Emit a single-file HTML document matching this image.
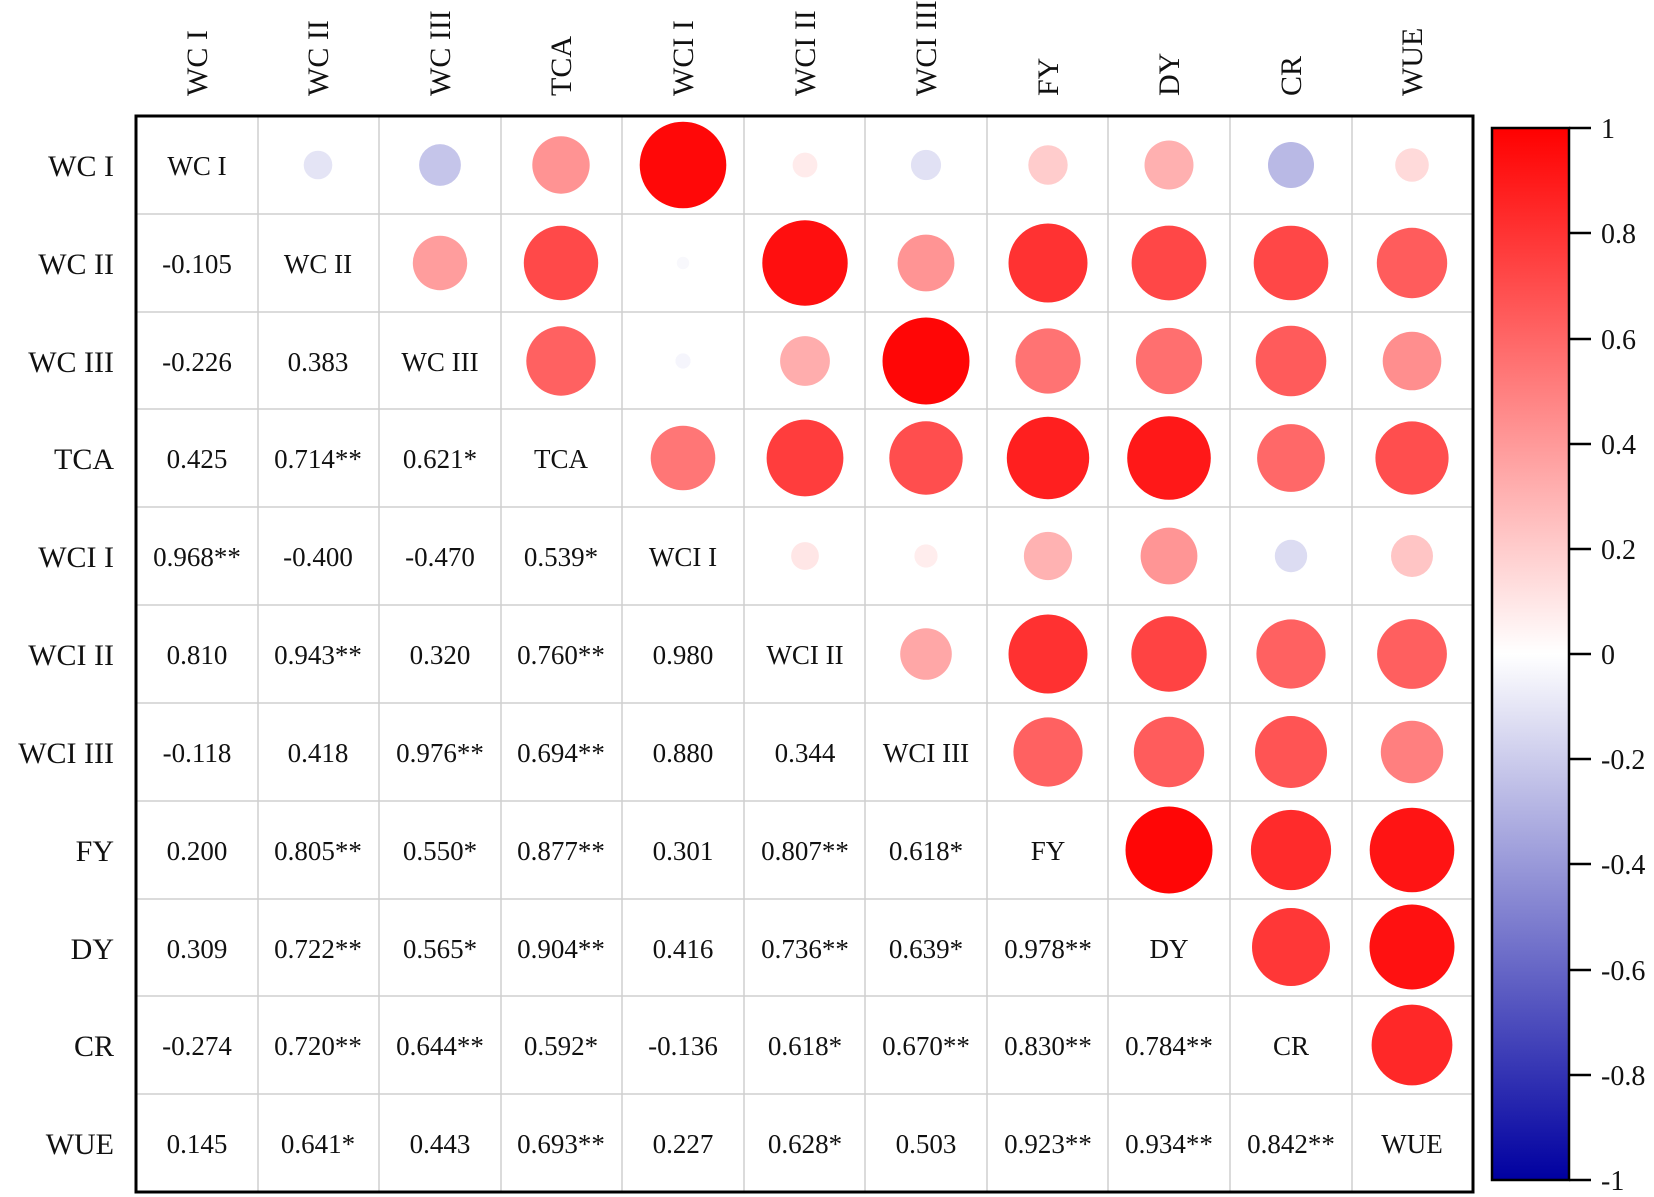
<!DOCTYPE html>
<html><head><meta charset="utf-8"><style>html,body{margin:0;padding:0;background:#fff}svg{display:block}</style></head>
<body>
<svg width="1654" height="1197" xmlns="http://www.w3.org/2000/svg" font-family="Liberation Serif, serif">
<defs><linearGradient id="cb" x1="0" y1="0" x2="0" y2="1">
<stop offset="0" stop-color="#ff0000"/><stop offset="0.5" stop-color="#ffffff"/><stop offset="1" stop-color="#0000a0"/></linearGradient></defs>
<g stroke="#cfcfcf" stroke-width="1.5">
<line x1="258" y1="116" x2="258" y2="1192"/><line x1="379" y1="116" x2="379" y2="1192"/><line x1="501" y1="116" x2="501" y2="1192"/><line x1="622" y1="116" x2="622" y2="1192"/><line x1="744" y1="116" x2="744" y2="1192"/><line x1="865" y1="116" x2="865" y2="1192"/><line x1="987" y1="116" x2="987" y2="1192"/><line x1="1108" y1="116" x2="1108" y2="1192"/><line x1="1230" y1="116" x2="1230" y2="1192"/><line x1="1352" y1="116" x2="1352" y2="1192"/>
<line x1="136" y1="214" x2="1473" y2="214"/><line x1="136" y1="312" x2="1473" y2="312"/><line x1="136" y1="409" x2="1473" y2="409"/><line x1="136" y1="507" x2="1473" y2="507"/><line x1="136" y1="605" x2="1473" y2="605"/><line x1="136" y1="703" x2="1473" y2="703"/><line x1="136" y1="801" x2="1473" y2="801"/><line x1="136" y1="899" x2="1473" y2="899"/><line x1="136" y1="996" x2="1473" y2="996"/><line x1="136" y1="1094" x2="1473" y2="1094"/>
</g>
<rect x="136" y="116" width="1337" height="1076" fill="none" stroke="#000" stroke-width="3"/>
<g>
<circle cx="318" cy="165" r="14.3" fill="rgb(228,228,245)"/>
<circle cx="440" cy="165" r="20.9" fill="rgb(197,197,234)"/>
<circle cx="561" cy="165" r="28.7" fill="rgb(255,147,147)"/>
<circle cx="683" cy="165" r="43.3" fill="rgb(255,8,8)"/>
<circle cx="805" cy="165" r="12.4" fill="rgb(255,235,235)"/>
<circle cx="926" cy="165" r="15.1" fill="rgb(225,225,244)"/>
<circle cx="1048" cy="165" r="19.7" fill="rgb(255,204,204)"/>
<circle cx="1169" cy="165" r="24.5" fill="rgb(255,176,176)"/>
<circle cx="1291" cy="165" r="23" fill="rgb(185,185,229)"/>
<circle cx="1412" cy="165" r="16.8" fill="rgb(255,218,218)"/>

<circle cx="440" cy="263" r="27.2" fill="rgb(255,157,157)"/>
<circle cx="561" cy="263" r="37.2" fill="rgb(255,73,73)"/>
<circle cx="683" cy="263" r="6.2" fill="rgb(248,248,252)"/>
<circle cx="805" cy="263" r="42.7" fill="rgb(255,15,15)"/>
<circle cx="926" cy="263" r="28.4" fill="rgb(255,148,148)"/>
<circle cx="1048" cy="263" r="39.5" fill="rgb(255,50,50)"/>
<circle cx="1169" cy="263" r="37.4" fill="rgb(255,71,71)"/>
<circle cx="1291" cy="263" r="37.3" fill="rgb(255,71,71)"/>
<circle cx="1412" cy="263" r="35.2" fill="rgb(255,92,92)"/>

<circle cx="561" cy="361" r="34.7" fill="rgb(255,97,97)"/>
<circle cx="683" cy="361" r="7.6" fill="rgb(245,245,252)"/>
<circle cx="805" cy="361" r="24.9" fill="rgb(255,173,173)"/>
<circle cx="926" cy="361" r="43.5" fill="rgb(255,6,6)"/>
<circle cx="1048" cy="361" r="32.6" fill="rgb(255,115,115)"/>
<circle cx="1169" cy="361" r="33.1" fill="rgb(255,111,111)"/>
<circle cx="1291" cy="361" r="35.3" fill="rgb(255,91,91)"/>
<circle cx="1412" cy="361" r="29.3" fill="rgb(255,142,142)"/>

<circle cx="683" cy="458" r="32.3" fill="rgb(255,118,118)"/>
<circle cx="805" cy="458" r="38.4" fill="rgb(255,61,61)"/>
<circle cx="926" cy="458" r="36.7" fill="rgb(255,78,78)"/>
<circle cx="1048" cy="458" r="41.2" fill="rgb(255,31,31)"/>
<circle cx="1169" cy="458" r="41.8" fill="rgb(255,24,24)"/>
<circle cx="1291" cy="458" r="33.9" fill="rgb(255,104,104)"/>
<circle cx="1412" cy="458" r="36.6" fill="rgb(255,78,78)"/>

<circle cx="805" cy="556" r="13.9" fill="rgb(255,230,230)"/>
<circle cx="926" cy="556" r="11.6" fill="rgb(255,237,237)"/>
<circle cx="1048" cy="556" r="24.1" fill="rgb(255,178,178)"/>
<circle cx="1169" cy="556" r="28.4" fill="rgb(255,149,149)"/>
<circle cx="1291" cy="556" r="16.2" fill="rgb(220,220,242)"/>
<circle cx="1412" cy="556" r="21" fill="rgb(255,197,197)"/>

<circle cx="926" cy="654" r="25.8" fill="rgb(255,167,167)"/>
<circle cx="1048" cy="654" r="39.5" fill="rgb(255,49,49)"/>
<circle cx="1169" cy="654" r="37.7" fill="rgb(255,67,67)"/>
<circle cx="1291" cy="654" r="34.6" fill="rgb(255,97,97)"/>
<circle cx="1412" cy="654" r="34.9" fill="rgb(255,95,95)"/>

<circle cx="1048" cy="752" r="34.6" fill="rgb(255,97,97)"/>
<circle cx="1169" cy="752" r="35.2" fill="rgb(255,92,92)"/>
<circle cx="1291" cy="752" r="36" fill="rgb(255,84,84)"/>
<circle cx="1412" cy="752" r="31.2" fill="rgb(255,127,127)"/>

<circle cx="1169" cy="850" r="43.5" fill="rgb(255,6,6)"/>
<circle cx="1291" cy="850" r="40.1" fill="rgb(255,43,43)"/>
<circle cx="1412" cy="850" r="42.3" fill="rgb(255,20,20)"/>

<circle cx="1291" cy="947" r="39" fill="rgb(255,55,55)"/>
<circle cx="1412" cy="947" r="42.5" fill="rgb(255,17,17)"/>

<circle cx="1412" cy="1045" r="40.4" fill="rgb(255,40,40)"/>
</g>
<g font-size="27" text-anchor="middle" fill="#111">
<text x="197" y="175">WC I</text>
<text x="197" y="273">-0.105</text><text x="318" y="273">WC II</text>
<text x="197" y="371">-0.226</text><text x="318" y="371">0.383</text><text x="440" y="371">WC III</text>
<text x="197" y="468">0.425</text><text x="318" y="468">0.714**</text><text x="440" y="468">0.621*</text><text x="561" y="468">TCA</text>
<text x="197" y="566">0.968**</text><text x="318" y="566">-0.400</text><text x="440" y="566">-0.470</text><text x="561" y="566">0.539*</text><text x="683" y="566">WCI I</text>
<text x="197" y="664">0.810</text><text x="318" y="664">0.943**</text><text x="440" y="664">0.320</text><text x="561" y="664">0.760**</text><text x="683" y="664">0.980</text><text x="805" y="664">WCI II</text>
<text x="197" y="762">-0.118</text><text x="318" y="762">0.418</text><text x="440" y="762">0.976**</text><text x="561" y="762">0.694**</text><text x="683" y="762">0.880</text><text x="805" y="762">0.344</text><text x="926" y="762">WCI III</text>
<text x="197" y="860">0.200</text><text x="318" y="860">0.805**</text><text x="440" y="860">0.550*</text><text x="561" y="860">0.877**</text><text x="683" y="860">0.301</text><text x="805" y="860">0.807**</text><text x="926" y="860">0.618*</text><text x="1048" y="860">FY</text>
<text x="197" y="958">0.309</text><text x="318" y="958">0.722**</text><text x="440" y="958">0.565*</text><text x="561" y="958">0.904**</text><text x="683" y="958">0.416</text><text x="805" y="958">0.736**</text><text x="926" y="958">0.639*</text><text x="1048" y="958">0.978**</text><text x="1169" y="958">DY</text>
<text x="197" y="1055">-0.274</text><text x="318" y="1055">0.720**</text><text x="440" y="1055">0.644**</text><text x="561" y="1055">0.592*</text><text x="683" y="1055">-0.136</text><text x="805" y="1055">0.618*</text><text x="926" y="1055">0.670**</text><text x="1048" y="1055">0.830**</text><text x="1169" y="1055">0.784**</text><text x="1291" y="1055">CR</text>
<text x="197" y="1153">0.145</text><text x="318" y="1153">0.641*</text><text x="440" y="1153">0.443</text><text x="561" y="1153">0.693**</text><text x="683" y="1153">0.227</text><text x="805" y="1153">0.628*</text><text x="926" y="1153">0.503</text><text x="1048" y="1153">0.923**</text><text x="1169" y="1153">0.934**</text><text x="1291" y="1153">0.842**</text><text x="1412" y="1153">WUE</text>
</g>
<g font-size="30" text-anchor="end" fill="#111">
<text x="114" y="176">WC I</text><text x="114" y="274">WC II</text><text x="114" y="372">WC III</text><text x="114" y="469">TCA</text><text x="114" y="567">WCI I</text><text x="114" y="665">WCI II</text><text x="114" y="763">WCI III</text><text x="114" y="861">FY</text><text x="114" y="959">DY</text><text x="114" y="1056">CR</text><text x="114" y="1154">WUE</text>
</g>
<g font-size="30" fill="#111">
<text transform="translate(207,96) rotate(-90)">WC I</text>
<text transform="translate(328,96) rotate(-90)">WC II</text>
<text transform="translate(450,96) rotate(-90)">WC III</text>
<text transform="translate(571,96) rotate(-90)">TCA</text>
<text transform="translate(693,96) rotate(-90)">WCI I</text>
<text transform="translate(815,96) rotate(-90)">WCI II</text>
<text transform="translate(936,96) rotate(-90)">WCI III</text>
<text transform="translate(1058,96) rotate(-90)">FY</text>
<text transform="translate(1179,96) rotate(-90)">DY</text>
<text transform="translate(1301,96) rotate(-90)">CR</text>
<text transform="translate(1422,96) rotate(-90)">WUE</text>
</g>
<rect x="1492" y="128" width="77" height="1052" fill="url(#cb)" stroke="#000" stroke-width="2.5"/>
<g stroke="#000" stroke-width="2.5">
<line x1="1569" y1="128" x2="1591" y2="128"/><line x1="1569" y1="233" x2="1591" y2="233"/><line x1="1569" y1="339" x2="1591" y2="339"/><line x1="1569" y1="444" x2="1591" y2="444"/><line x1="1569" y1="549" x2="1591" y2="549"/><line x1="1569" y1="654" x2="1591" y2="654"/><line x1="1569" y1="759" x2="1591" y2="759"/><line x1="1569" y1="864" x2="1591" y2="864"/><line x1="1569" y1="970" x2="1591" y2="970"/><line x1="1569" y1="1075" x2="1591" y2="1075"/><line x1="1569" y1="1180" x2="1591" y2="1180"/>
</g>
<g font-size="28" fill="#111">
<text x="1601" y="138">1</text><text x="1601" y="243">0.8</text><text x="1601" y="349">0.6</text><text x="1601" y="454">0.4</text><text x="1601" y="559">0.2</text><text x="1601" y="664">0</text><text x="1601" y="769">-0.2</text><text x="1601" y="874">-0.4</text><text x="1601" y="980">-0.6</text><text x="1601" y="1085">-0.8</text><text x="1601" y="1190">-1</text>
</g>
</svg>
</body></html>
